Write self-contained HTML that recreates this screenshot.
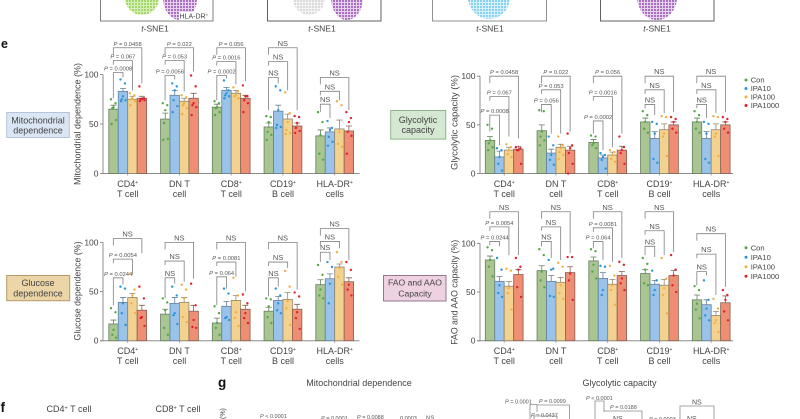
<!DOCTYPE html>
<html>
<head>
<meta charset="utf-8">
<style>
html,body{margin:0;padding:0;background:#fff;width:800px;height:419px;overflow:hidden}
svg{display:block;font-family:"Liberation Sans",sans-serif;filter:blur(0.35px)}
</style>
</head>
<body>
<svg id="figure" xmlns="http://www.w3.org/2000/svg" width="800" height="419" viewBox="0 0 800 419">
<defs>
<pattern id="dots-green" width="3" height="3" patternUnits="userSpaceOnUse"><rect width="3" height="3" fill="#d6efb8"/><circle cx="1" cy="1" r="1" fill="#94d155"/></pattern>
<pattern id="dots-purple" width="3" height="3" patternUnits="userSpaceOnUse"><rect width="3" height="3" fill="#e6d2ee"/><circle cx="1" cy="1" r="1" fill="#9550b0"/></pattern>
<pattern id="dots-gray" width="3" height="3" patternUnits="userSpaceOnUse"><rect width="3" height="3" fill="#f4f4f4"/><circle cx="1" cy="1" r=".9" fill="#c8c8c8"/></pattern>
<pattern id="dots-blue" width="3" height="3" patternUnits="userSpaceOnUse"><rect width="3" height="3" fill="#d8f0fb"/><circle cx="1" cy="1" r="1" fill="#6ec8ec"/></pattern>
</defs>

<g>
  <ellipse cx="142" cy="-2" rx="17" ry="17" fill="url(#dots-green)"/>
  <ellipse cx="180" cy="-2" rx="17" ry="22" fill="url(#dots-purple)"/>
  <rect x="179" y="12" width="28" height="8" fill="#fff"/>
  <text x="179.5" y="18.5" font-size="7" fill="#444">HLA-DR<tspan dy="-2" font-size="4.5">+</tspan></text>
  <polyline points="100.5,0 100.5,21 213,21 213,0" fill="none" stroke="#808080" stroke-width="1"/>
  <text x="155" y="31.5" font-size="8.5" text-anchor="middle" fill="#444"><tspan font-style="italic">t</tspan>-SNE1</text>

  <ellipse cx="309" cy="-2" rx="16" ry="17" fill="url(#dots-gray)"/>
  <ellipse cx="347" cy="-2" rx="16" ry="22" fill="url(#dots-purple)"/>
  <polyline points="267.5,0 267.5,21 381,21 381,0" fill="none" stroke="#606060" stroke-width="1"/>
  <text x="322" y="31.5" font-size="8.5" text-anchor="middle" fill="#444"><tspan font-style="italic">t</tspan>-SNE1</text>

  <ellipse cx="489" cy="-3" rx="21" ry="22" fill="url(#dots-blue)"/>
  <polyline points="432.5,0 432.5,21 546.5,21 546.5,0" fill="none" stroke="#909090" stroke-width="1"/>
  <text x="490" y="31.5" font-size="8.5" text-anchor="middle" fill="#444"><tspan font-style="italic">t</tspan>-SNE1</text>

  <ellipse cx="657" cy="-3" rx="20" ry="23" fill="url(#dots-purple)"/>
  <polyline points="600.5,0 600.5,21 714,21 714,0" fill="none" stroke="#606060" stroke-width="1"/>
  <text x="657" y="31.5" font-size="8.5" text-anchor="middle" fill="#444"><tspan font-style="italic">t</tspan>-SNE1</text>
</g>

<text x="1" y="48" font-size="12.5" font-weight="bold" fill="#111">e</text>
<text x="218" y="387" font-size="13.5" font-weight="bold" fill="#111">g</text>
<text x="0.5" y="412" font-size="13.5" font-weight="bold" fill="#111">f</text>

<g>
  <rect x="6.7" y="112.5" width="62.6" height="25" fill="#dbe6f5" stroke="#b4c4dc"/>
  <text x="38" y="123.3" font-size="9" text-anchor="middle" fill="#444">Mitochondrial</text>
  <text x="38" y="133.3" font-size="9" text-anchor="middle" fill="#444">dependence</text>
</g>
<g>
  <rect x="390.7" y="110.5" width="55" height="28.6" fill="#d5e8d1" stroke="#8fb38b"/>
  <text x="418" y="123" font-size="9" text-anchor="middle" fill="#444">Glycolytic</text>
  <text x="418" y="133" font-size="9" text-anchor="middle" fill="#444">capacity</text>
</g>
<g>
  <rect x="6.7" y="275.5" width="63" height="25.2" fill="#ecd6a8" stroke="#b59a68"/>
  <text x="38" y="286" font-size="9" text-anchor="middle" fill="#444">Glucose</text>
  <text x="38" y="296.5" font-size="9" text-anchor="middle" fill="#444">dependence</text>
</g>
<g>
  <rect x="383.5" y="275.5" width="62.5" height="25.5" fill="#eed2e2" stroke="#94788a"/>
  <text x="415" y="285.5" font-size="8.6" text-anchor="middle" fill="#444">FAO and AAO</text>
  <text x="415" y="296.5" font-size="8.6" text-anchor="middle" fill="#444">Capacity</text>
</g>

<g id="charts"></g>

<g fill="#444">
  <text x="359" y="386" font-size="9" text-anchor="middle">Mitochondrial dependence</text>
  <text x="619.5" y="386" font-size="9" text-anchor="middle">Glycolytic capacity</text>
  <text x="69" y="412" font-size="9" text-anchor="middle">CD4<tspan dy="-2.5" font-size="5.5">+</tspan><tspan dy="2.5"> T cell</tspan></text>
  <text x="178" y="412" font-size="9" text-anchor="middle">CD8<tspan dy="-2.5" font-size="5.5">+</tspan><tspan dy="2.5"> T cell</tspan></text>
  <text transform="translate(225,419) rotate(-90)" font-size="7">(%)</text>
  <g font-size="5.5" fill="#555">
    <text x="260" y="418"><tspan font-style="italic">P</tspan> &lt; 0.0001</text>
    <text x="321" y="420"><tspan font-style="italic">P</tspan> = 0.0001</text>
    <text x="357" y="419"><tspan font-style="italic">P</tspan> = 0.0088</text>
    <text x="400" y="420">0.0003</text>
    <text x="505" y="403.5"><tspan font-style="italic">P</tspan> = 0.0001</text>
    <text x="539" y="403"><tspan font-style="italic">P</tspan> = 0.0099</text>
    <text x="531" y="417"><tspan font-style="italic">P</tspan> = 0.0437</text>
    <text x="586" y="400"><tspan font-style="italic">P</tspan> &lt; 0.0001</text>
    <text x="610" y="409"><tspan font-style="italic">P</tspan> = 0.0188</text>
    <text x="649" y="421"><tspan font-style="italic">P</tspan> = 0.0003</text>
  </g>
  <g font-size="7" fill="#555">
    <text x="426" y="420" font-size="6">NS</text>
    <text x="613" y="421">NS</text>
    <text x="687" y="421">NS</text>
    <text x="692" y="404.5">NS</text>
  </g>
  <path fill="none" stroke="#8a8a8a" stroke-width=".8" d="M530 419V404.5H537V412M537 405H569.5V419M534 419V416H557V419M595 419V401H604V412M604 411H642V419M680 419V406H714V419"/>
</g>

<script>
// ---- shared categories and axes ----
const groupLabels = [["CD4+","T cell"],["DN T","cell"],["CD8+","T cell"],["CD19+","B cell"],["HLA-DR+","cells"]];
const seriesNames = ["Con","IPA10","IPA100","IPA1000"];
const yTickLabels = [0,50,100];

// ---- mitochondrial dependence ----
const mitoMeans = [[65,83,75,76],[55,79,73,76],[67,84,81,76],[47,63,55,48],[38,42,45,43]];
const mitoErrors = [[4,3,3,2],[6,5,3,5],[3,3,3,3],[4,6,5,3],[6,4,9,5]];
const mitoPoints = [
 [[75,71,67,66,54,50],[95,91,78,75,74,73],[81,79,76,75,73,69],[88,76,75,75,74,73]],
 [[71,69,64,51,35,34],[91,88,84,74,68,62],[79,77,71,69,66,60],[99,88,71,69,67,59]],
 [[73,71,67,66,62,59],[94,84,81,79,78,76],[87,83,79,78,76],[89,78,78,74,71,62]],
 [[58,57,52,42,39,34],[88,84,64,49,47,46],[82,61,52,44,41,40],[58,57,51,46,43,41]],
 [[62,52,39,20,14],[53,46,44,37,32,28],[73,69,42,30,27],[62,56,52,42,38,20]]];
const mitoBracketLabels = [["P = 0.0008","P = 0.067","P = 0.0458"],["P = 0.0056","P = 0.053","P = 0.022"],["P = 0.0002","P = 0.0016","P = 0.056"],["NS","NS","NS"],["NS","NS","NS"]];
const mitoBracketTiers = [[102,114,127],[99,114,127],[99,113,127],[97,113,127],[70,83,97]];
const mitoBracketEnds = [[97,84,91],[95,83,103],[96,90,93],[91,84,64],[56,74,64]];
const mitoBracketStarts = [76,74,74,64,62];

// ---- glycolytic capacity ----
const glycoMeans = [[34,17,24,25],[44,21,27,24],[32,16,19,24],[53,36,45,50],[53,36,45,50]];
const glycoErrors = [[4,6,3,3],[6,4,3,4],[3,3,3,4],[4,7,6,3],[4,7,6,3]];
const glycoPoints = [
 [[50,46,34,31,27,24],[26,24,17,10,3],[30,27,24,20,17],[27,26,24,24,10]],
 [[65,64,43,38,34,29],[38,29,19,14,9],[38,29,26,22,19,15],[41,29,26,21,10,0]],
 [[39,38,31,29,26],[21,19,17,14,5],[24,22,19,15,12],[38,27,24,21,10]],
 [[64,60,53,46,42],[53,51,41,15,11],[59,58,41,38,18],[58,56,53,46,42]],
 [[64,60,53,46,42],[53,51,41,15,11],[59,58,41,38,18],[58,56,53,46,42]]];
const glycoBracketLabels = [["P = 0.0008","P = 0.067","P = 0.0458"],["P = 0.056","P = 0.053","P = 0.022"],["P = 0.0002","P = 0.0016","P = 0.056"],["NS","NS","NS"],["NS","NS","NS"]];
const glycoBracketTiers = [[60,79,100],[71,86,100],[54,79,100],[71,86,100],[71,86,100]];
const glycoBracketEnds = [[29,38,36],[41,41,43],[24,27,41],[60,62,63],[57,62,63]];
const glycoBracketStarts = [43,63,41,67,67];

// ---- glucose dependence ----
const glucMeans = [[17,39,44,31],[27,38,39,30],[18,35,41,32],[30,41,42,32],[57,63,75,60]];
const glucErrors = [[4,5,4,5],[5,6,5,6],[5,5,5,4],[4,4,7,5],[5,5,3,4]];
const glucPoints = [
 [[33,29,11,6,3],[55,53,38,28,16],[68,52,46,38,28],[55,43,24,23,15]],
 [[43,39,31,13,6],[55,46,28,26,17],[57,52,43,24,19],[58,36,21,14,13]],
 [[35,28,18,13,6],[53,48,24,23,21],[64,46,29,23,15],[47,38,28,23,18]],
 [[43,42,35,24,18],[53,46,38,31,28],[71,55,40,33,16],[49,45,29,23,12]],
 [[77,67,52,46,43],[80,75,58,38],[90,80,74,65,57],[80,72,57,52,46]]];
const glucBracketLabels = [["P = 0.0244","P = 0.0054","NS"],["NS","NS","NS"],["P = 0.064","P = 0.0081","NS"],["NS","NS","NS"],["NS","NS","NS"]];
const glucBracketTiers = [[64,83,104],[64,81,100],[65,80,100],[64,80,100],[90,101,114]];
const glucBracketEnds = [[57,67,89],[58,60,63],[53,65,50],[55,74,52],[82,94,82]];
const glucBracketStarts = [36,43,36,45,80];

// ---- FAO and AAO capacity ----
const faoMeans = [[83,61,56,68],[72,61,60,70],[82,64,58,67],[69,58,57,67],[42,37,26,39]];
const faoErrors = [[4,5,5,5],[5,6,5,6],[4,6,5,4],[4,4,6,5],[5,5,4,7]];
const faoPoints = [
 [[96,93,83,76,66],[85,73,57,49,45],[74,72,54,49,32],[85,76,73,55,45]],
 [[94,88,71,62,55],[83,74,73,46,45],[80,76,57,49,43],[86,86,69,62,42]],
 [[94,92,78,71,64],[77,76,52,47],[77,67,57,52,37],[81,78,64,59,52]],
 [[85,79,73,59,57],[72,62,52,47],[85,64,54,47,28],[88,73,67,57,50]],
 [[56,52,38,32,23],[62,42,33,26,21],[43,33,21,18,9],[52,47,42,30,21]]];
const faoBracketLabels = [["P = 0.0244","P = 0.0054","NS"],["NS","NS","NS"],["P = 0.064","P = 0.0081","NS"],["NS","NS","NS"],["NS","NS","NS"]];
const faoBracketTiers = [[102,117,132.5],[102,117,132.5],[102,116,132.5],[97,113,132.5],[71,89,110]];
const faoBracketEnds = [[97,88,88],[85,83,90],[83,81,85],[86,88,91],[67,47,55]];
const faoBracketStarts = [98,97,95,88,57];

const NS = "http://www.w3.org/2000/svg";
const root = document.getElementById("charts");
const barFill = ["#a9c592","#99c3ea","#f3d18f","#ee8f74"];
const barEdge = ["#667f5e","#66809c","#94876a","#8a5f52"];
const dotFill = ["#55a845","#2c94d8","#f0b040","#e02030"];
const jitter = [-2.5,2,0,-1.2,2.6,-2,1];
const axisColor = "#8c8c8c";
const textColor = "#444";
const bracketColor = "#808080";

function make(parent, tag, attrs, text) {
  const el = document.createElementNS(NS, tag);
  for (const k in attrs) el.setAttribute(k, attrs[k]);
  if (text !== undefined) el.textContent = text;
  parent.appendChild(el);
  return el;
}

function drawLabel(parent, label, x, y) {
  const isP = label.charAt(0) === "P";
  const t = make(parent, "text", {x: x, y: y, "text-anchor": "middle", "font-size": isP ? 5.8 : 7.5, fill: "#555"});
  if (isP) {
    make(t, "tspan", {"font-style": "italic"}, "P");
    make(t, "tspan", {}, label.slice(1));
  } else {
    t.textContent = label;
  }
  return t;
}

function drawChart(cfg) {
  const g = make(root, "g", {});
  
  
  const yPos = v => cfg.base - v * cfg.scale;
  const barWidth = 9.45, groupStep = 51.75;
  const barLeft = (gi, si) => cfg.firstBar + gi * groupStep + si * barWidth;
  const barMid = (gi, si) => barLeft(gi, si) + barWidth / 2;

  // axes
  const yAxis = make(g, "line", {x1: cfg.axisX, x2: cfg.axisX, y1: yPos(100), y2: cfg.base, stroke: axisColor, "stroke-width": 1});
  
  
  const xAxis = make(g, "line", {x1: cfg.axisX - 3, x2: cfg.axisEnd, y1: cfg.base, y2: cfg.base, stroke: axisColor, "stroke-width": 1});
  
  

  yTickLabels.forEach(v => {
    make(g, "line", {x1: cfg.axisX - 3, x2: cfg.axisX, y1: yPos(v), y2: yPos(v), stroke: axisColor, "stroke-width": 1});
    const tl = make(g, "text", {x: cfg.axisX - 4.5, y: yPos(v) + 3, "text-anchor": "end", "font-size": 8.5, fill: textColor}, String(v));
    
    
  });

  const yt = make(g, "text", {transform: "translate(" + (cfg.axisX - 22.5) + "," + cfg.titleY + ") rotate(-90)", "text-anchor": "middle", "font-size": 9, fill: textColor, textLength: cfg.titleLen, lengthAdjust: "spacingAndGlyphs"}, cfg.title);
  
  

  groupLabels.forEach((lab, gi) => {
    const cx = barLeft(gi, 2);
    make(g, "line", {x1: cx, x2: cx, y1: cfg.base, y2: cfg.base + 2, stroke: axisColor, "stroke-width": .8});
    const plus = lab[0].endsWith("+");
    const l1 = make(g, "text", {x: cx, y: cfg.base + 13.5, "text-anchor": "middle", "font-size": 9, fill: textColor});
    
    
    make(l1, "tspan", {}, plus ? lab[0].slice(0, -1) : lab[0]);
    if (plus) make(l1, "tspan", {dy: -3, "font-size": 5}, "+");
    const l2 = make(g, "text", {x: cx, y: cfg.base + 23.5, "text-anchor": "middle", "font-size": 9, fill: textColor}, lab[1]);
    
    
  });

  // brackets
  cfg.labels.forEach((labs, gi) => {
    labs.forEach((lab, k) => {
      const xl = barMid(gi, 0) - .2, xr = barMid(gi, k + 1);
      const ty = yPos(cfg.tiers[gi][k]);
      const leftEnd = k === 0 ? yPos(cfg.starts[gi]) : ty + (k === 2 ? 7 : 4);
      const br = make(g, "path", {d: "M" + xl + " " + leftEnd + "V" + ty + "H" + xr + "V" + yPos(cfg.ends[gi][k]), fill: "none", stroke: bracketColor, "stroke-width": .8});
      
      
      const bl = drawLabel(g, lab, (xl + xr) / 2, ty - 2);
      
      
    });
  });

  // bars, error bars, points
  cfg.means.forEach((row, gi) => {
    row.forEach((val, si) => {
      const bar = make(g, "rect", {x: barLeft(gi, si), y: yPos(val), width: barWidth, height: cfg.base - yPos(val), fill: barFill[si], stroke: barEdge[si], "stroke-width": .8});
      
      
      const mid = barMid(gi, si), top = yPos(val + cfg.errors[gi][si]);
      const eb = make(g, "path", {d: "M" + mid + " " + yPos(val) + "V" + top + "M" + (mid - 3) + " " + top + "H" + (mid + 3), stroke: barEdge[si], "stroke-width": .8, fill: "none"});
      
      
    });
  });
  cfg.points.forEach((row, gi) => {
    row.forEach((vals, si) => {
      vals.forEach((v, pi) => {
        const pt = make(g, "circle", {cx: barMid(gi, si) + jitter[pi % jitter.length], cy: yPos(v), r: 1.2, fill: dotFill[si]});
        
        
      });
    });
  });

  // legend
  if (cfg.legendY) {
    seriesNames.forEach((n, si) => {
      const y = cfg.legendY + si * cfg.legendStep;
      const ld = make(g, "circle", {cx: 746, cy: y, r: 1.5, fill: dotFill[si]});
      
      
      const lt = make(g, "text", {x: 750.7, y: y + 2.7, "font-size": 7.6, fill: textColor}, n);
      
      
    });
  }
}

drawChart({name: "mitochondrial-chart", base: 173.5, scale: .99, axisX: 103, axisEnd: 359.5, firstBar: 108.8, title: "Mitochondrial dependence (%)", titleY: 124, titleLen: 122, means: mitoMeans, errors: mitoErrors, points: mitoPoints, labels: mitoBracketLabels, tiers: mitoBracketTiers, ends: mitoBracketEnds, starts: mitoBracketStarts});
drawChart({name: "glycolytic-chart", base: 173.5, scale: .973, axisX: 480, axisEnd: 733, firstBar: 485.3, title: "Glycolytic capacity (%)", titleY: 122.5, titleLen: 95, means: glycoMeans, errors: glycoErrors, points: glycoPoints, labels: glycoBracketLabels, tiers: glycoBracketTiers, ends: glycoBracketEnds, starts: glycoBracketStarts, legendY: 80, legendStep: 8.5});
drawChart({name: "glucose-chart", base: 340.7, scale: .983, axisX: 103, axisEnd: 359.5, firstBar: 108.8, title: "Glucose dependence (%)", titleY: 291, titleLen: 99, means: glucMeans, errors: glucErrors, points: glucPoints, labels: glucBracketLabels, tiers: glucBracketTiers, ends: glucBracketEnds, starts: glucBracketStarts});
drawChart({name: "fao-aao-chart", base: 340.7, scale: .973, axisX: 480, axisEnd: 733, firstBar: 485.3, title: "FAO and AAO capacity (%)", titleY: 292.3, titleLen: 105, means: faoMeans, errors: faoErrors, points: faoPoints, labels: faoBracketLabels, tiers: faoBracketTiers, ends: faoBracketEnds, starts: faoBracketStarts, legendY: 247.7, legendStep: 9.5});
</script>
</svg>
</body>
</html>
